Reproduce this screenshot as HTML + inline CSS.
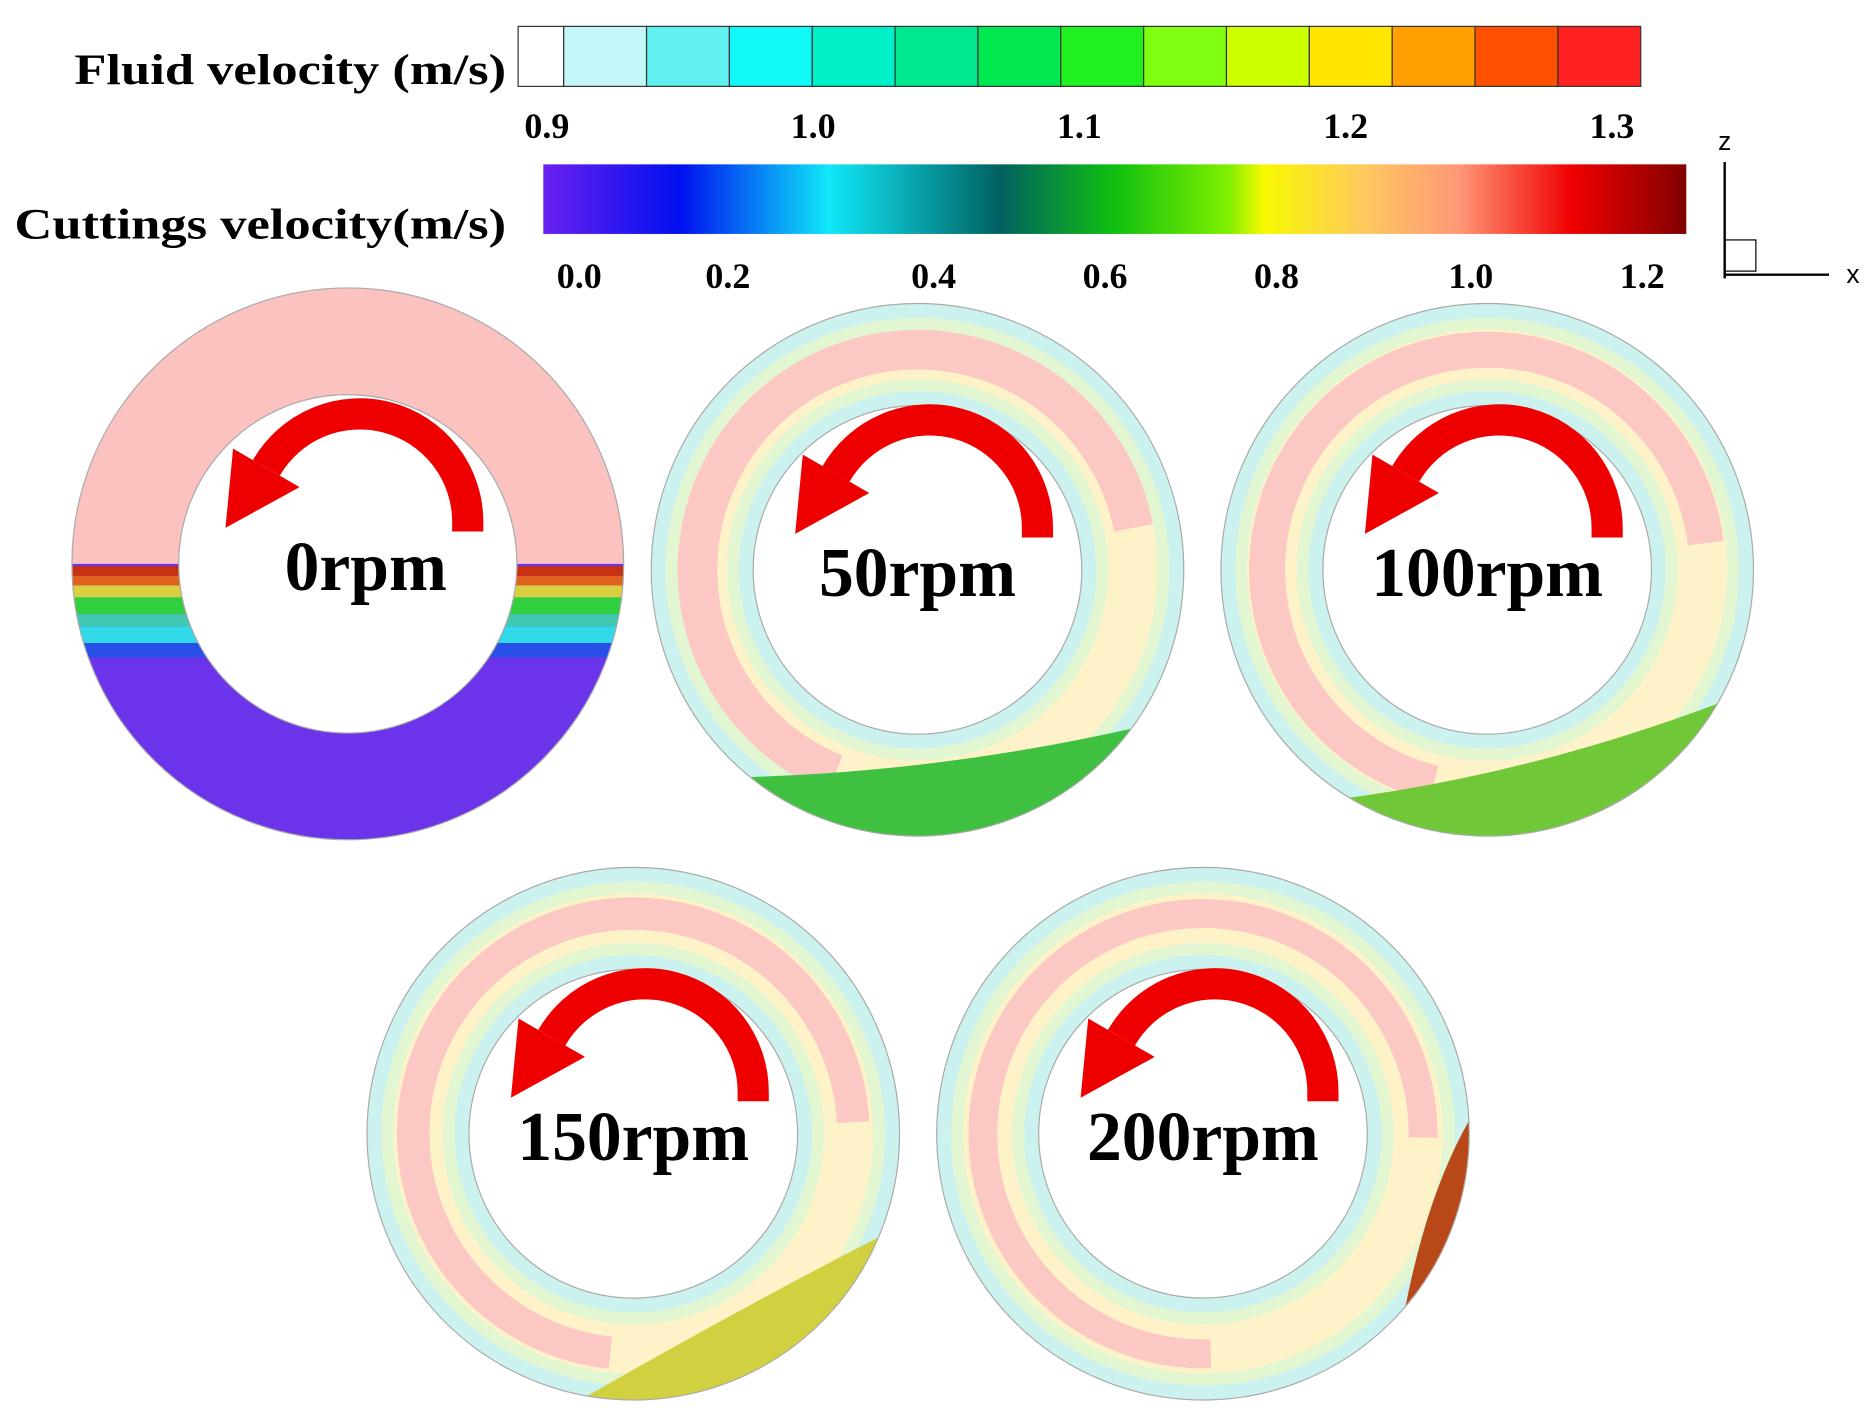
<!DOCTYPE html>
<html><head><meta charset="utf-8"><style>
html,body{margin:0;padding:0;background:#fff;}
svg{display:block;}
text{font-family:"Liberation Serif",serif;font-weight:bold;fill:#000;}
</style></head><body>
<svg id="fig" width="1871" height="1424" viewBox="0 0 1560 1187" preserveAspectRatio="none" xmlns="http://www.w3.org/2000/svg">
<defs>
<linearGradient id="cutGrad" x1="0" x2="1" y1="0" y2="0">
<stop offset="0" stop-color="#6a20f0"/><stop offset="0.12" stop-color="#0010f0"/><stop offset="0.25" stop-color="#10e8f8"/><stop offset="0.4" stop-color="#006060"/><stop offset="0.5" stop-color="#10c010"/><stop offset="0.6" stop-color="#80f000"/><stop offset="0.63" stop-color="#f8f800"/><stop offset="0.72" stop-color="#ffc860"/><stop offset="0.8" stop-color="#ff9878"/><stop offset="0.9" stop-color="#f00000"/><stop offset="1" stop-color="#800000"/>
</linearGradient>
</defs>
<text x="62" y="70" font-size="36" textLength="360" lengthAdjust="spacingAndGlyphs">Fluid velocity (m/s)</text>
<text x="12" y="199" font-size="36" textLength="410" lengthAdjust="spacingAndGlyphs">Cuttings velocity(m/s)</text>
<g id="fluidBar"></g>
<rect x="453" y="137" width="953" height="58" fill="url(#cutGrad)"/>
<g id="cutTicks"></g>
<g>
<line x1="1438" y1="135" x2="1438" y2="232" stroke="#000" stroke-width="2"/>
<line x1="1438" y1="229" x2="1525" y2="229" stroke="#000" stroke-width="2"/>
<rect x="1438" y="200" width="26" height="26" fill="none" stroke="#000" stroke-width="1"/>
<text x="1438" y="125" font-size="22" text-anchor="middle" style="font-family:'Liberation Sans',sans-serif;font-weight:normal">z</text>
<text x="1545" y="236" font-size="22" text-anchor="middle" style="font-family:'Liberation Sans',sans-serif;font-weight:normal">x</text>
</g>
<g id="rings"></g>
</svg>
<script>
const fluidTickLabels=["0.9","1.0","1.1","1.2","1.3"];
const fluidTickValues=[0.9,1.0,1.1,1.2,1.3];
const fluidColors=["#ffffff","#c4f8f8","#60f0f0","#10f8f8","#00f0c8","#00e890","#00e850","#20f020","#80ff10","#ccff00","#ffe600","#ffa000","#ff5000","#ff2020"];
const cutTickLabels=["0.0","0.2","0.4","0.6","0.8","1.0","1.2"];
const cutTickPos=[0.0,0.13,0.31,0.46,0.61,0.78,0.93];
const rpmLabels=["0rpm","50rpm","100rpm","150rpm","200rpm"];
const ringCx=[290,765,1240,528,1003];
const ringCy=[470,475,475,945,945];
const ringR=[230,222,222,222,222];
const ringr=[141,137,137,137,137];
const NS="http://www.w3.org/2000/svg";
function mk(t,a,p){const e=document.createElementNS(NS,t);for(const k in a)e.setAttribute(k,a[k]);(p||document.getElementById('fig')).appendChild(e);return e;}
const fb=document.getElementById('fluidBar');
const fx0=432,fx1=1368,firstW=38;
const cw=(fx1-fx0-firstW)/(fluidColors.length-1);
fluidColors.forEach((c,i)=>{
 const x=i===0?fx0:fx0+firstW+(i-1)*cw;
 const r=mk('rect',{x:x,y:22,width:i===0?firstW:cw,height:50,fill:c,stroke:'#333','stroke-width':1},fb);
 
 
});
function fxs(v){return 456+(v-0.9)/(1.3-0.9)*(1344-456);}
fluidTickValues.forEach((v,i)=>{
 const t=mk('text',{x:fxs(v),y:115,'font-size':30,'text-anchor':'middle'},fb);t.textContent=fluidTickLabels[i];
 
 
});
const ct=document.getElementById('cutTicks');
cutTickLabels.forEach((l,i)=>{
 const t=mk('text',{x:453+cutTickPos[i]*953+30,y:240,'font-size':30,'text-anchor':'middle'},ct);t.textContent=l;
 
 
});
function annulus(cx,cy,R,r){return `M${cx-R},${cy}a${R},${R} 0 1,0 ${2*R},0a${R},${R} 0 1,0 ${-2*R},0Z M${cx-r},${cy}a${r},${r} 0 1,0 ${2*r},0a${r},${r} 0 1,0 ${-2*r},0Z`;}
function pt(cx,cy,r,deg){const a=deg*Math.PI/180;return [cx+r*Math.cos(a),cy-r*Math.sin(a)];}
const defs=document.querySelector('defs');
const rg=document.getElementById('rings');
rpmLabels.forEach((lab,i)=>{
 const cx=ringCx[i],cy=ringCy[i],R=ringR[i],r=ringr[i];
 const g=mk('g',{},rg);
 
 
 const cp=mk('clipPath',{id:'clip'+i},defs);
 mk('path',{d:annulus(cx,cy,R,r),'clip-rule':'evenodd','fill-rule':'evenodd'},cp);
 const c=mk('g',{'clip-path':`url(#clip${i})`},g);
 if(i===0){
  mk('rect',{x:cx-R,y:cy-R,width:2*R,height:R,fill:'#fbc2c0'},c);
  mk('rect',{x:cx-R,y:cy,width:2*R,height:R,fill:'#6c34ea'},c);
  const bands=[['#c83010',0,8],['#e06020',8,8],['#d8d040',16,10],['#30d040',26,14],['#40c8b0',40,10],['#30d8e8',50,14],['#2850e8',64,12]];
  bands.forEach(b=>mk('rect',{x:cx-R,y:cy+b[1]+2,width:2*R,height:b[2],fill:b[0]},c));
 } else {
  mk('circle',{cx:cx,cy:cy,r:R,fill:'#ccf2f0'},c);
  mk('circle',{cx:cx,cy:cy,r:(R+r)/2,fill:'none',stroke:'#e2f6d2','stroke-width':(R-r)-24},c);
  mk('circle',{cx:cx,cy:cy,r:(R+r)/2,fill:'none',stroke:'#fdf2c8','stroke-width':(R-r)-44},c);
  const m=(R+r)/2+4;
  const s=pt(cx,cy,m,-120+i*8),e=pt(cx,cy,m,15-i*4);
  mk('path',{d:`M${s[0]},${s[1]} A${m},${m} 0 1,1 ${e[0]},${e[1]}`,fill:'none',stroke:'#fbc8c4','stroke-width':36-i*3},c);
  const bedCol=['','#40c040','#70c838','#d0d040','#b84818'][i];
  if(i===1) mk('path',{d:`M${cx-R},${cy+R*0.78} Q${cx},${cy+R*0.8} ${cx+R},${cy+R*0.55} L${cx+R},${cy+R} L${cx-R},${cy+R}Z`,fill:bedCol},c);
  if(i===2) mk('path',{d:`M${cx-R},${cy+R*0.9} Q${cx},${cy+R*0.85} ${cx+R},${cy+R*0.45} L${cx+R},${cy+R} L${cx-R},${cy+R}Z`,fill:bedCol},c);
  if(i===3) mk('path',{d:`M${cx-R*0.2},${cy+R} Q${cx+R*0.5},${cy+R*0.6} ${cx+R},${cy+R*0.35} L${cx+R},${cy+R}Z`,fill:bedCol},c);
  if(i===4) mk('path',{d:`M${cx+R*0.72},${cy+R*0.9} Q${cx+R*0.8},${cy+R*0.3} ${cx+R},${cy-R*0.05} L${cx+R},${cy+R}Z`,fill:bedCol},c);
 }
 mk('path',{d:annulus(cx,cy,R,r),'fill-rule':'evenodd',fill:'none',stroke:'#aaa','stroke-width':1},g);
 const ax=cx+10,ay=cy-35,ar=90;
 const a0=pt(ax,ay,ar,0),a1=pt(ax,ay,ar,150);
 const arrow=mk('g',{},g);
 
 
 mk('path',{d:`M${a0[0]},${ay+8} L${a0[0]},${a0[1]} A${ar},${ar} 0 0,0 ${a1[0]},${a1[1]}`,fill:'none',stroke:'#ee0000','stroke-width':26},arrow);
 const o=pt(ax,ay,ar+32,150),n=pt(ax,ay,ar-32,150);
 mk('polygon',{points:`${o[0]},${o[1]} ${n[0]},${n[1]} ${ax-ar-22},${ay+5}`,fill:'#ee0000'},arrow);
 const t=mk('text',{x:cx+(i===0?15:0),y:cy+22,'font-size':58,'text-anchor':'middle'},g);t.textContent=lab;
 
 
});
</script>
</body></html>
